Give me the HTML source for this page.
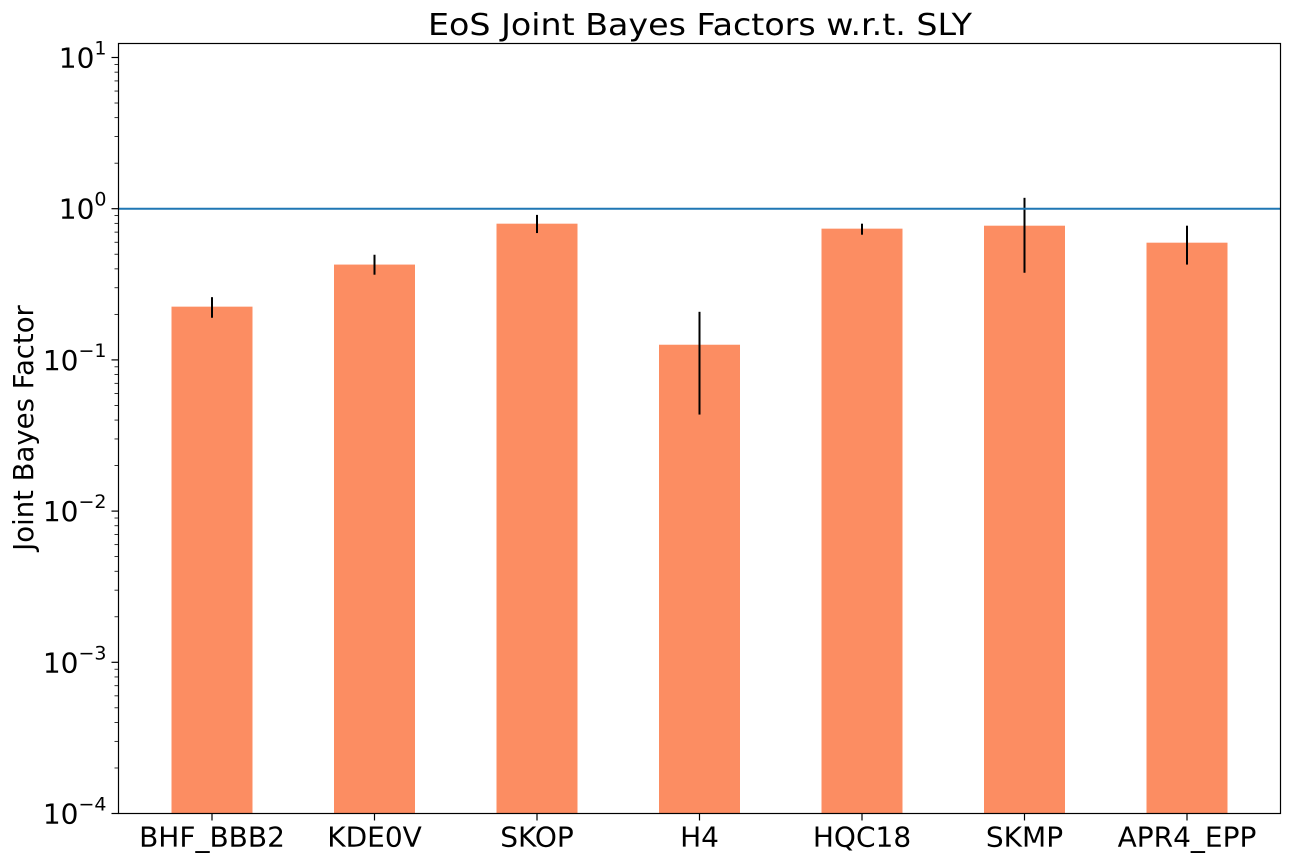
<!DOCTYPE html>
<html><head><meta charset="utf-8"><style>
body{margin:0;background:#fff}
svg text{font-family:"DejaVu Sans","Liberation Sans",sans-serif;fill:#000}
</style></head><body>
<svg id="chart" width="1290" height="862" xmlns="http://www.w3.org/2000/svg">
<text x="700" y="35" font-size="30" text-anchor="middle" textLength="544" lengthAdjust="spacingAndGlyphs">EoS Joint Bayes Factors w.r.t. SLY</text>
<text transform="translate(33,428) rotate(-90)" font-size="27.5" text-anchor="middle">Joint Bayes Factor</text>
<g id="marks"></g>
<rect x="118.5" y="43.5" width="1162" height="770" fill="none" stroke="#000" stroke-width="1.2"/>
</svg>
<script>
const categories=["BHF_BBB2","KDE0V","SKOP","H4","HQC18","SKMP","APR4_EPP"];
const values=[0.225,0.427,0.796,0.126,0.738,0.772,0.596];
const errLow=[0.19,0.366,0.69,0.0435,0.673,0.377,0.427];
const errHigh=[0.26,0.496,0.91,0.208,0.796,1.18,0.772];
const yTicks=[-4,-3,-2,-1,0,1];
const refLine=1;
const L=118.5,R=1280.5,T=43.5,B=813.5;
const decade=151.2;
function y(v){return B-(Math.log10(v)+4)*decade;}
function x(i){return 212+i*162.5;}
const bw=81;
const ns="http://www.w3.org/2000/svg";
const g=document.getElementById('marks');
function mk(t,a){const e=document.createElementNS(ns,t);for(const k in a)e.setAttribute(k,a[k]);g.appendChild(e);return e;}
categories.forEach((c,i)=>{
  const r=mk('rect',{x:x(i)-bw/2,y:y(values[i]),width:bw,height:B-y(values[i]),fill:'#fc8d62'});
  
  
  const e=mk('line',{x1:x(i),x2:x(i),y1:y(errHigh[i]),y2:y(errLow[i]),stroke:'#000','stroke-width':2});
  
  
  const tk=mk('line',{x1:x(i),x2:x(i),y1:B,y2:B+7,stroke:'#000','stroke-width':1.2});
  
  
  const t=mk('text',{x:x(i),y:B+33,'font-size':28,'text-anchor':'middle'});
  t.textContent=c;
  
  
});
const hl=mk('line',{x1:L,x2:R,y1:y(refLine),y2:y(refLine),stroke:'#1f77b4','stroke-width':2});


yTicks.forEach(p=>{
  const yy=B-(p+4)*decade;
  const tk=mk('line',{x1:L-7,x2:L,y1:yy,y2:yy,stroke:'#000','stroke-width':1.2});
  
  
  const t=mk('text',{x:L-12,y:yy+10,'font-size':28,'text-anchor':'end'});
  t.innerHTML='10<tspan dy="-13" font-size="19">'+(p<0?'\u2212'+(-p):p)+'</tspan>';
  
  
  for(let m=2;m<=9;m++){
    const my=yy-Math.log10(m)*decade;
    if(my<T)continue;
    const mt=mk('line',{x1:L-4,x2:L,y1:my,y2:my,stroke:'#000','stroke-width':0.8});
    
    
  }
});
</script>
</body></html>
